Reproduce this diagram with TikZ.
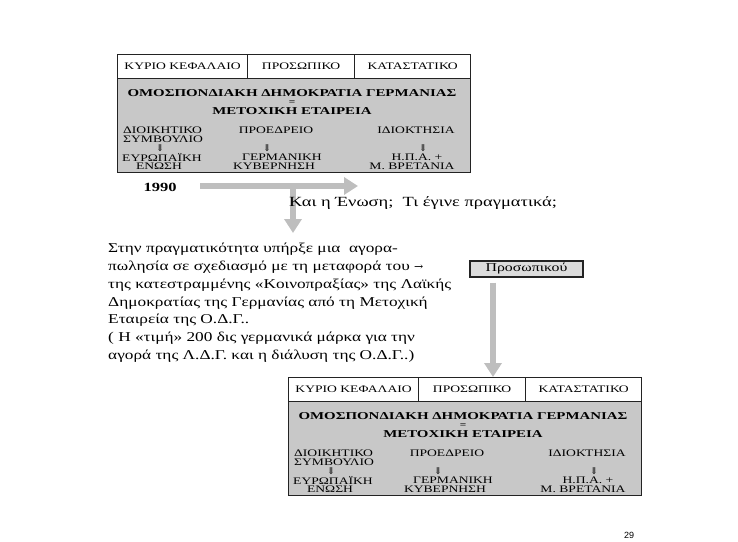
\documentclass[tikz,border=0pt]{standalone}
\usepackage{fontspec}
\setmainfont{Liberation Serif}
\newfontfamily\boxfont{Liberation Serif}[FakeStretch=1.36]
\newfontfamily\titlefont{Liberation Serif}[FakeStretch=1.42]
\newfontfamily\parafont{Liberation Serif}[FakeStretch=1.28]
\newfontfamily\qfont{Liberation Serif}[FakeStretch=1.32]
\newfontfamily\symfont{DejaVu Serif}
\newfontfamily\pagefont{Liberation Sans}
\usetikzlibrary{arrows.meta}
\definecolor{boxgray}{RGB}{200,200,200}
\definecolor{lightbox}{RGB}{220,220,220}
\definecolor{arrowgray}{RGB}{190,190,190}
\definecolor{edge}{RGB}{35,35,35}
\tikzset{
  cell/.style={draw=edge, line width=1.2pt, fill=white, inner sep=0pt, anchor=north west,
    minimum height=24pt, font=\boxfont\fontsize{10}{11}\selectfont},
  bodybox/.style={draw=edge, line width=1.2pt, fill=boxgray, inner sep=0pt, anchor=north west},
  boxtxt/.style={inner sep=0pt, font=\boxfont\fontsize{10}{11}\selectfont},
  titletxt/.style={inner sep=0pt, font=\titlefont\fontsize{10.5}{11}\bfseries\selectfont},
  dnarrow/.style={inner sep=0pt, font=\symfont\fontsize{9.5}{10}\selectfont},
  bigarrow/.style={draw=arrowgray, line width=6pt, -{Triangle[width=17pt,length=14pt]}},
  plain/.style={inner sep=0pt, font=\parafont\fontsize{13.5}{17.8}\selectfont},
}
\newcommand\orgbox[3]{%
\begin{scope}[shift={(#2,#3)}]
  \node[bodybox, minimum width=353pt, minimum height=94pt] (#1body) at (0,24) {};
  \node[cell, minimum width=130pt] (#1c1) at (0,0) {ΚΥΡΙΟ ΚΕΦΑΛΑΙΟ};
  \node[cell, minimum width=107pt] (#1c2) at (130,0) {\raisebox{-2.5pt}{ΠΡΟΣΩΠΙΚΟ}};
  \node[cell, minimum width=116pt] (#1c3) at (237,0) {ΚΑΤΑΣΤΑΤΙΚΟ};
  \node[titletxt] (#1t1) at (175,39.5) {ΟΜΟΣΠΟΝΔΙΑΚΗ ΔΗΜΟΚΡΑΤΙΑ ΓΕΡΜΑΝΙΑΣ};
  \node[titletxt, font=\titlefont\fontsize{8}{8}\bfseries\selectfont] (#1eq) at (175,48.5) {=};
  \node[titletxt] (#1t2) at (175,57.5) {ΜΕΤΟΧΙΚΗ ΕΤΑΙΡΕΙΑ};
  \node[boxtxt, anchor=west] (#1a1) at (6,76) {ΔΙΟΙΚΗΤΙΚΟ};
  \node[boxtxt, anchor=west] (#1a2) at (6,85) {ΣΥΜΒΟΥΛΙΟ};
  \node[boxtxt] (#1b1) at (159,76) {ΠΡΟΕΔΡΕΙΟ};
  \node[boxtxt] (#1g1) at (299,76) {ΙΔΙΟΚΤΗΣΙΑ};
  \node[dnarrow] (#1d1) at (43,94) {⇓};
  \node[dnarrow] (#1d2) at (150,94) {⇓};
  \node[dnarrow] (#1d3) at (306,94) {⇓};
  \node[boxtxt] (#1e1) at (45,103) {ΕΥΡΩΠΑΪΚΗ};
  \node[boxtxt] (#1f1) at (42,112.5) {ΕΝΩΣΗ};
  \node[boxtxt] (#1e2) at (165,103) {ΓΕΡΜΑΝΙΚΗ};
  \node[boxtxt] (#1f2) at (157,112.5) {ΚΥΒΕΡΝΗΣΗ};
  \node[boxtxt] (#1e3) at (300,103) {Η.Π.Α. +};
  \node[boxtxt] (#1f3) at (295,112.5) {Μ. ΒΡΕΤΑΝΙΑ};
\end{scope}}
\begin{document}
\begin{tikzpicture}[x=1pt,y=-1pt]
  \useasboundingbox (0,0) rectangle (738,541);
  \orgbox{A}{117}{54}
  \node[inner sep=0pt, font=\qfont\fontsize{12.5}{12}\bfseries\selectfont] (year) at (160,187) {1990};
  \coordinate (hstart) at (200,186);
  \coordinate (hend) at (358,186);
  \coordinate (vbranch) at (293,186);
  \coordinate (vend) at (293,233);
  \draw[bigarrow] (hstart) -- (hend);
  \draw[bigarrow] ([yshift=-3pt]vbranch) -- (vend);
  \node[inner sep=0pt, anchor=west, font=\qfont\fontsize{14}{14}\selectfont] (question) at (289,203)
    {Και η Ένωση;\ \ Τι έγινε πραγματικά;};
  \node[plain, anchor=north west, align=left] (para) at (108,243)
   {Στην πραγματικότητα υπήρξε μια\ \ αγορα-\\
    πωλησία σε σχεδιασμό με τη μεταφορά του\ {\symfont\fontsize{11}{11}\selectfont →}\\
    της κατεστραμμένης «Κοινοπραξίας» της Λαϊκής\\
    Δημοκρατίας της Γερμανίας από τη Μετοχική\\
    Εταιρεία της Ο.Δ.Γ..\\
    ( Η «τιμή» 200 δις γερμανικά μάρκα για την\\
    αγορά της Λ.Δ.Γ. και η διάλυση της Ο.Δ.Γ..)};
  \node[draw=edge, line width=1.2pt, fill=lightbox, minimum width=113pt, minimum height=16pt,
    inner sep=0pt, font=\qfont\fontsize{12}{12}\selectfont] (pros) at (526.5,269) {Προσωπικού};
  \orgbox{B}{288}{377}
  \coordinate (vx) at (493,0);
  \draw[bigarrow, shorten <=5pt] (pros.south -| vx) -- (vx |- Bc2.north);
  \node[inner sep=0pt, font=\pagefont\fontsize{9}{9}\selectfont] (page) at (629,535) {29};
\end{tikzpicture}
\end{document}
